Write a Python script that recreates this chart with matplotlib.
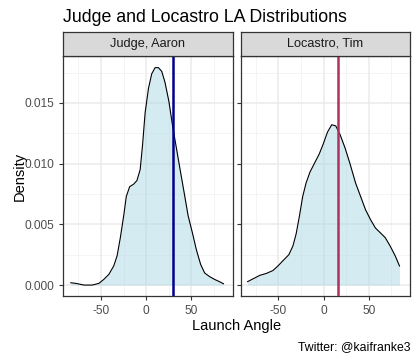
import numpy as np
import matplotlib
matplotlib.use("Agg")
import matplotlib.pyplot as plt

plt.rcParams['font.family'] = ['Liberation Sans', 'DejaVu Sans']

# Judge, Aaron density curve
judge_x = [-83.2, -77.7, -68.6, -59.5, -52.2, -46.7, -41.2, -35.8, -32.1, -28.5, -24.8, -21.9, -18.2,
           -13.9, -10.2, -6.6, -4.0, -1.1, 2.6, 6.2, 9.9, 13.5, 17.2, 20.8, 25.2, 29.2, 33.6, 38.0,
           42.0, 46.4, 51.1, 55.5, 60.2, 64.6, 70.0, 75.5, 81.0, 85.4]
judge_d = [0.00019, 0.00014, 0.0, 0.0, 0.00014, 0.00047, 0.00088, 0.00157, 0.0024, 0.0039, 0.0057,
           0.0073, 0.0081, 0.0083, 0.0086, 0.0095, 0.0115, 0.0142, 0.0162, 0.0174, 0.0179, 0.0179,
           0.0176, 0.0167, 0.0151, 0.0131, 0.0112, 0.0093, 0.0076, 0.0057, 0.0043, 0.0029, 0.0017,
           0.0010, 0.0007, 0.00047, 0.00028, 0.00011]
judge_mean = 29.2

# Locastro, Tim density curve
loc_x = [-83.9, -77.7, -70.4, -63.1, -55.8, -50.4, -44.9, -38.3, -33.9, -30.3, -26.6, -23.0, -19.3,
         -15.0, -10.2, -4.7, -0.4, 4.4, 9.1, 13.5, 18.2, 23.7, 29.2, 35.4, 40.9, 46.4, 51.8, 57.3,
         62.8, 68.2, 73.7, 79.2, 83.9]
loc_d = [0.00028, 0.00052, 0.0008, 0.00096, 0.0012, 0.00157, 0.0020, 0.0025, 0.0032, 0.0042, 0.0057,
         0.0073, 0.0084, 0.0093, 0.0100, 0.0108, 0.0116, 0.0126, 0.0132, 0.0131, 0.0124, 0.0113,
         0.0100, 0.0084, 0.0073, 0.0062, 0.0054, 0.0047, 0.0043, 0.0039, 0.0032, 0.0024, 0.00157]
loc_mean = 16.1

panels = ["Judge, Aaron", "Locastro, Tim"]
x_ticks = [-50, 0, 50]
y_ticks = [0.000, 0.005, 0.010, 0.015]
y_labels = ["0.000", "0.005", "0.010", "0.015"]

W, H = 417, 360
fig = plt.figure(figsize=(W / 100, H / 100), dpi=100)

panel_left = [63.3, 240.7]
panel_w = 169.3
panel_top, panel_bottom = 55.5, 296
strip_top = 32.3

data = [(judge_x, judge_d, judge_mean, "#00008B"), (loc_x, loc_d, loc_mean, "#B03060")]

grid_major = "#EBEBEB"
frame_col = "#333333"

xmin, xmax = -91.5, 95.5
ymin, ymax = -0.0009, 0.0189

for i, (xs, ds, m, lc) in enumerate(data):
    l = panel_left[i]
    ax = fig.add_axes([l / W, 1 - panel_bottom / H, panel_w / W, (panel_bottom - panel_top) / H])
    ax.set_xlim(xmin, xmax)
    ax.set_ylim(ymin, ymax)
    for xv in [-75, -25, 25, 75]:
        ax.axvline(xv, color="#F2F2F2", lw=0.6, zorder=0)
    for yv in [0.0025, 0.0075, 0.0125, 0.0175]:
        ax.axhline(yv, color="#F2F2F2", lw=0.6, zorder=0)
    for xv in x_ticks:
        ax.axvline(xv, color=grid_major, lw=1.1, zorder=0)
    for yv in y_ticks:
        ax.axhline(yv, color=grid_major, lw=1.1, zorder=0)
    ax.fill_between(xs, 0, ds, color="#ADD8E6", alpha=0.5, lw=0, zorder=1)
    ax.plot(xs, ds, color="black", lw=0.8, zorder=2)
    ax.axvline(m, color=lc, lw=1.8, zorder=3)
    ax.set_xticks(x_ticks)
    ax.set_xticklabels([str(t) for t in x_ticks])
    ax.set_yticks(y_ticks)
    if i == 0:
        ax.set_yticklabels(y_labels)
    else:
        ax.set_yticklabels([])
        ax.tick_params(axis='y', length=0)
    ax.tick_params(axis='both', labelsize=8.6, colors="#333333", labelcolor="#4D4D4D", length=3, width=0.8)
    for s in ax.spines.values():
        s.set_color(frame_col)
        s.set_linewidth(0.9)
    sax = fig.add_axes([l / W, 1 - panel_top / H, panel_w / W, (panel_top - strip_top) / H])
    sax.set_facecolor("#D9D9D9")
    sax.set_xticks([])
    sax.set_yticks([])
    for s in sax.spines.values():
        s.set_color(frame_col)
        s.set_linewidth(0.9)
    sax.text(0.5, 0.5, panels[i], ha="center", va="center", fontsize=9.2, color="#1A1A1A",
             transform=sax.transAxes)

fig.text(63.3 / W, 1 - 22 / H, "Judge and Locastro LA Distributions", fontsize=12.8, color="black",
         ha="left", va="baseline")
fig.text(20 / W, 1 - 176 / H, "Density", rotation=90, fontsize=10.5, ha="center", va="center")
fig.text(237 / W, 1 - 326 / H, "Launch Angle", fontsize=10.5, ha="center", va="center")
fig.text(410 / W, 1 - 347 / H, "Twitter: @kaifranke3", fontsize=8.8, ha="right", va="center")

fig.savefig("out.png", dpi=100)
